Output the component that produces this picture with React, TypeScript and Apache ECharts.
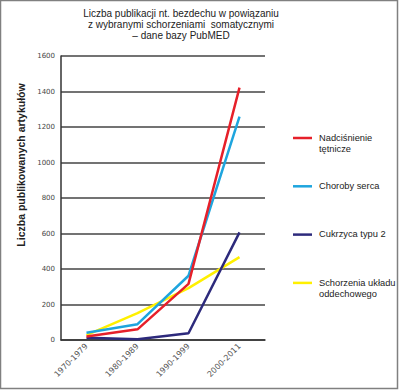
import React, { useEffect, useRef } from "react";
import * as echarts from "echarts";

const categories = ["1970-1979", "1980-1989", "1990-1999", "2000-2011"];
const seriesNames = ["Nadciśnienie\ntętnicze", "Choroby serca", "Cukrzyca typu 2", "Schorzenia układu\noddechowego"];
const seriesColors = ["#e6202a", "#1ea5de", "#2d2a7c", "#fff000"];
const hypertension = [20, 60, 316, 1422];
const heartDisease = [41, 89, 362, 1258];
const diabetes = [13, 4, 38, 606];
const respiratory = [28, 151, 292, 467];
const seriesData = [hypertension, heartDisease, diabetes, respiratory];
const titleLines = [
  "Liczba publikacji nt. bezdechu w powiązaniu",
  "z wybranymi schorzeniami  somatycznymi",
  "– dane bazy PubMED",
];
const yAxisTitle = "Liczba publikowanych artykułów";

export default function App() {
  const ref = useRef<HTMLDivElement>(null);
  useEffect(() => {
    if (!ref.current) return;
    const chart = echarts.init(ref.current, null, { renderer: "svg" });
    const legendGraphics: any[] = [];
    seriesNames.forEach((name, i) => {
      const y = 138 + i * 48.3;
      legendGraphics.push({
        type: "line",
        shape: { x1: 293, y1: y, x2: 312, y2: y },
        style: { stroke: seriesColors[i], lineWidth: 2.5 },
      });
      legendGraphics.push({
        type: "text",
        x: 319,
        y: y - 6,
        style: {
          text: name,
          fill: "#222",
          font: "9.3px 'Liberation Sans', Arial, sans-serif",
          lineHeight: 11.5,
          textVerticalAlign: "top",
        },
      });
    });
    chart.setOption({
      animation: false,
      backgroundColor: "#fff",
      title: {
        text: titleLines.join("\n"),
        left: 176,
        top: 3,
        textAlign: "center",
        textStyle: {
          fontFamily: "'Liberation Sans', Arial, sans-serif",
          fontSize: 10,
          fontWeight: "normal",
          color: "#222",
          lineHeight: 11,
        },
      },
      grid: { left: 61, top: 56, width: 204, height: 284 },
      xAxis: {
        type: "category",
        data: categories,
        boundaryGap: true,
        axisLine: { lineStyle: { color: "#333", width: 1.5 } },
        axisTick: { show: false },
        axisLabel: {
          rotate: 45,
          fontSize: 8,
          color: "#555",
          fontFamily: "'DejaVu Sans', sans-serif",
          margin: 5,
        },
      },
      yAxis: {
        type: "value",
        min: 0,
        max: 1600,
        interval: 200,
        axisLine: { show: true, lineStyle: { color: "#333", width: 1.5 } },
        axisTick: { show: false },
        axisLabel: {
          fontSize: 7,
          color: "#444",
          fontFamily: "'DejaVu Sans', sans-serif",
          margin: 6,
          formatter: (v: number) => String(v),
        },
        splitLine: { lineStyle: { color: "#444", width: 1.5 } },
      },
      series: seriesData.map((d, i) => ({
        name: seriesNames[i],
        type: "line",
        data: d,
        symbol: "none",
        lineStyle: { color: seriesColors[i], width: 2.5 },
        z: 10 - i,
      })),
      graphic: [
        {
          type: "rect",
          shape: { x: 0.5, y: 0.5, width: 397, height: 388 },
          style: { fill: "none", stroke: "#808080", lineWidth: 1.5 },
          silent: true,
        },
        {
          type: "text",
          x: 21,
          y: 165,
          rotation: Math.PI / 2,
          style: {
            text: yAxisTitle,
            fill: "#222",
            font: "bold 10.5px 'Liberation Sans', Arial, sans-serif",
            textAlign: "center",
            textVerticalAlign: "middle",
          },
        },
        ...legendGraphics,
      ],
    });
    return () => chart.dispose();
  }, []);
  return (
    <div
      ref={ref}
      style={{ position: "fixed", left: 0, top: 0, width: 400, height: 390 }}
    />
  );
}
